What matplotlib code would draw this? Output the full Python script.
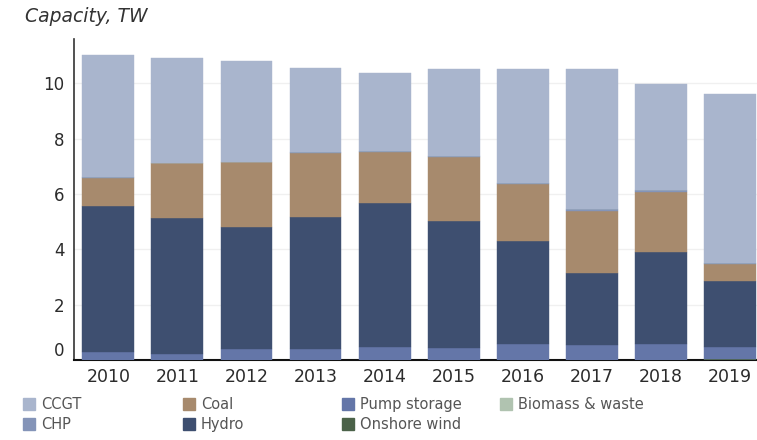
import numpy as np
import matplotlib.pyplot as plt
from matplotlib.patches import Rectangle

years = ["2010", "2011", "2012", "2013", "2014", "2015", "2016", "2017", "2018", "2019"]

# capacity by source, TW (stacked bottom to top)
onshore_wind = [0.00, 0.00, 0.00, 0.00, 0.00, 0.00, 0.00, 0.00, 0.00, 0.03]
pump_storage = [0.28, 0.21, 0.38, 0.38, 0.47, 0.45, 0.58, 0.55, 0.58, 0.44]
hydro = [5.27, 4.92, 4.43, 4.78, 5.19, 4.57, 3.72, 2.60, 3.33, 2.37]
coal = [1.04, 1.98, 2.33, 2.33, 1.86, 2.33, 2.06, 2.23, 2.17, 0.64]
chp = [0.02, 0.02, 0.02, 0.02, 0.02, 0.03, 0.04, 0.06, 0.06, 0.03]
biomass = [0.00, 0.00, 0.00, 0.00, 0.00, 0.00, 0.00, 0.00, 0.00, 0.00]
ccgt = [4.41, 3.80, 3.64, 3.03, 2.83, 3.14, 4.12, 5.08, 3.82, 6.09]

series = [
    ("Onshore wind", onshore_wind, "#4b6249"),
    ("Pump storage", pump_storage, "#6476a8"),
    ("Hydro", hydro, "#3e4f70"),
    ("Coal", coal, "#a78a6d"),
    ("CHP", chp, "#8494b8"),
    ("Biomass & waste", biomass, "#b0c3b0"),
    ("CCGT", ccgt, "#a9b5cd"),
]
colors = {name: c for name, _, c in series}

fig = plt.figure(figsize=(7.57, 4.40), dpi=100)
ax = fig.add_axes([74 / 757, 80 / 440, 683 / 757, 321 / 440])

x = np.arange(len(years))
bottom = np.zeros(len(years))
for name, vals, col in series:
    vals = np.array(vals)
    ax.bar(x, vals, width=0.75, bottom=bottom, color=col, edgecolor=col,
           linewidth=0.3, zorder=3)
    bottom += vals

ax.set_xlim(-0.496, 9.388)
ax.set_ylim(0, 11.6)
ax.set_xticks(x)
ax.set_xticklabels(years)
ax.set_yticks([0, 2, 4, 6, 8, 10])
ax.yaxis.grid(True, color="#f0f0f0", linewidth=1, zorder=0)
ax.set_axisbelow(True)

ax.tick_params(axis="x", length=0, pad=6, labelsize=12.5, labelcolor="#2b2b2b")
ax.tick_params(axis="y", length=0, pad=7, labelsize=12, labelcolor="#2b2b2b")
ax.get_yticklabels()[0].set_va("bottom")

for side in ["top", "right"]:
    ax.spines[side].set_visible(False)
ax.spines["left"].set_color("#333333")
ax.spines["left"].set_linewidth(1.2)
ax.spines["bottom"].set_color("#111111")
ax.spines["bottom"].set_linewidth(1.5)

fig.text(25 / 757, 1 - 17 / 440, "Capacity, TW", style="italic", fontsize=13.5,
         color="#333333", ha="left", va="center")

# legend laid out in four columns, two rows
legend_rows = [
    ["CCGT", "Coal", "Pump storage", "Biomass & waste"],
    ["CHP", "Hydro", "Onshore wind"],
]
col_x = [23, 183, 342, 500]
row_y = [404, 424]
for r, names in enumerate(legend_rows):
    for c, name in enumerate(names):
        px, py = col_x[c], row_y[r]
        fig.patches.append(Rectangle((px / 757, 1 - (py + 6) / 440), 12 / 757, 12 / 440,
                                     transform=fig.transFigure, color=colors[name]))
        fig.text((px + 18) / 757, 1 - py / 440, name, fontsize=10.5, color="#555555",
                 ha="left", va="center")

fig.savefig("out.png", dpi=100)
